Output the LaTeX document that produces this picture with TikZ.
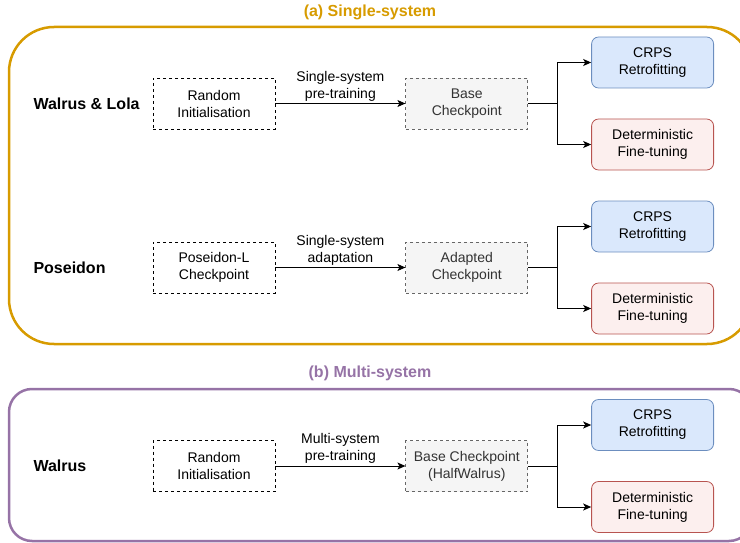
\documentclass[tikz,border=0pt]{standalone}
\usepackage{fontspec}
\setmainfont{Liberation Sans}
\usetikzlibrary{positioning, arrows.meta}
\definecolor{singlecol}{HTML}{D79B00}
\definecolor{multicol}{HTML}{9673A6}
\definecolor{basedraw}{HTML}{666666}
\definecolor{basefill}{HTML}{F5F5F5}
\definecolor{basetext}{HTML}{333333}
\definecolor{crpsdraw}{HTML}{6C8EBF}
\definecolor{crpsfill}{HTML}{DAE8FC}
\definecolor{detdraw}{HTML}{B85450}
\definecolor{detfill}{HTML}{FCEFEE}
\tikzset{
  plainbox/.style={draw, line width=0.8pt, dash pattern=on 3pt off 3pt,
    minimum width=122pt, minimum height=51pt, align=center,
    font=\fontsize{14}{17}\selectfont},
  basebox/.style={plainbox, draw=basedraw, fill=basefill, text=basetext},
  crpsbox/.style={draw=crpsdraw, fill=crpsfill, line width=0.8pt,
    rounded corners=7pt, minimum width=122pt, minimum height=51pt,
    align=center, font=\fontsize{14}{17}\selectfont},
  detbox/.style={crpsbox, draw=detdraw, fill=detfill},
  rowlabel/.style={anchor=west, font=\fontsize{16}{19}\selectfont\bfseries},
  steplabel/.style={above, align=center, inner sep=2pt,
    font=\fontsize{14}{17}\selectfont},
  paneltitle/.style={font=\fontsize{16}{19}\selectfont\bfseries},
  frame/.style={line width=2.5pt}
}

\begin{document}
\begin{tikzpicture}[>={Stealth[length=8pt, width=7pt, inset=2pt]}, x=1pt, y=-1pt]
    \useasboundingbox (0,0) rectangle (740,543);

    % (a) single-system panel
    \node[paneltitle, text=singlecol] (title-a) at (370,12) {(a) Single-system};
    \draw[frame, singlecol, rounded corners=45pt] (9,27) rectangle (752,344);

    \node[rowlabel] (walrus-lola) at (30,103.5) {Walrus \& Lola};
    \node[plainbox] (rand-1) at (214,103.5) {Random\\Initialisation};
    \node[basebox, right=130pt of rand-1] (base-1) {Base\\Checkpoint};
    \node[crpsbox, right=63pt of base-1, yshift=41pt] (crps-1) {CRPS\\Retrofitting};
    \node[detbox, right=63pt of base-1, yshift=-41pt] (det-1) {Deterministic\\Fine-tuning};

    \node[rowlabel] (poseidon) at (30,267.5) {Poseidon};
    \node[plainbox] (ckpt-2) at (214,267.5) {Poseidon-L\\Checkpoint};
    \node[basebox, right=130pt of ckpt-2] (base-2) {Adapted\\Checkpoint};
    \node[crpsbox, right=63pt of base-2, yshift=41pt] (crps-2) {CRPS\\Retrofitting};
    \node[detbox, right=63pt of base-2, yshift=-41pt] (det-2) {Deterministic\\Fine-tuning};

    % (b) multi-system panel
    \node[paneltitle, text=multicol] (title-b) at (370,373) {(b) Multi-system};
    \draw[frame, multicol, rounded corners=23pt] (9,389) rectangle (752,541);

    \node[rowlabel] (walrus) at (30,466) {Walrus};
    \node[plainbox] (rand-3) at (214,466) {Random\\Initialisation};
    \node[basebox, right=130pt of rand-3] (base-3) {Base Checkpoint\\(HalfWalrus)};
    \node[crpsbox, right=63pt of base-3, yshift=41pt] (crps-3) {CRPS\\Retrofitting};
    \node[detbox, right=63pt of base-3, yshift=-41pt] (det-3) {Deterministic\\Fine-tuning};

    \draw[->, line width=1pt] (rand-1) -- (base-1) node [steplabel, midway] {Single-system\\pre-training};
    \draw[->, line width=1pt] (ckpt-2) -- (base-2) node [steplabel, midway] {Single-system\\adaptation};
    \draw[->, line width=1pt] (rand-3) -- (base-3) node [steplabel, midway] {Multi-system\\pre-training};

    \foreach \i in {1,2,3}{
      \draw[->, line width=1pt] (base-\i.east) -- ++(29,0) |- (crps-\i.west);
      \draw[->, line width=1pt] (base-\i.east) -- ++(29,0) |- (det-\i.west);
    }
\end{tikzpicture}
\end{document}
